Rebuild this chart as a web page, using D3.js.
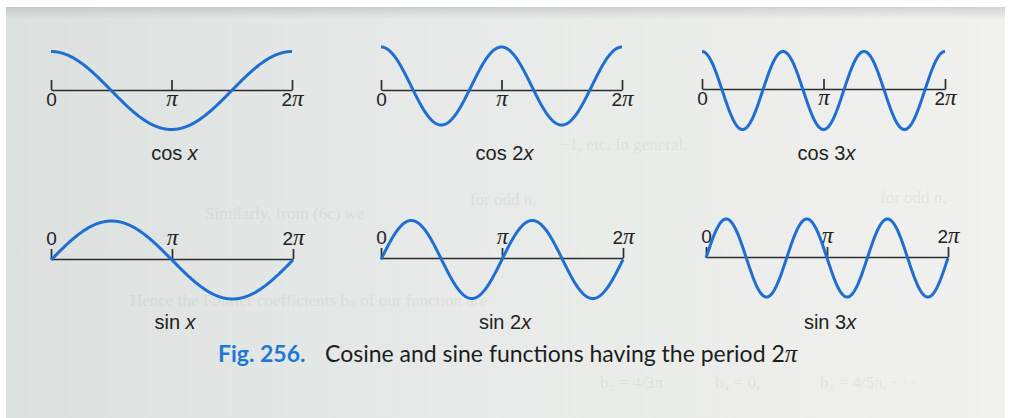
<!DOCTYPE html>
<html>
<head>
<meta charset="utf-8">
<script src="https://cdn.jsdelivr.net/npm/d3@7"></script>
<style>
  html, body { margin: 0; padding: 0; background: #ffffff; }
  svg { display: block; }
</style>
</head>
<body>
<svg id="fig" width="1014" height="418"></svg>
<script>
// Functions shown in the six panels (name + frequency n in cos nx / sin nx)
const funcNames = ["cos", "cos", "cos", "sin", "sin", "sin"];
const freqs = [1, 2, 3, 1, 2, 3];
// Axis ticks at 0, pi, 2pi
const tickValues = [0, Math.PI, 2 * Math.PI];
const tickLabels = ["0", "π", "2π"];
const captionNumber = "Fig. 256.";
const captionText = "Cosine and sine functions having the period 2";

// Panel placement on the page
const panels = [
  { x0: 51,  x1: 292, axisY: 90,  mid: 90.5, row: 0 },
  { x0: 381, x1: 622, axisY: 90,  mid: 86,   row: 0 },
  { x0: 702, x1: 945, axisY: 89,  mid: 90.5, row: 0 },
  { x0: 51,  x1: 293, axisY: 259, mid: 260,  row: 1 },
  { x0: 381, x1: 623, axisY: 258, mid: 259.5,row: 1 },
  { x0: 706, x1: 948, axisY: 257, mid: 258,  row: 1 }
];
const amp = 39;
const blue = "#1f6fd2";
const ink = "#2b2e2e";
const sans = "'Liberation Sans', Arial, sans-serif";
const serif = "'Liberation Serif', 'DejaVu Serif', serif";

const svg = d3.select("#fig");

// Paper background
const defs = svg.append("defs");
const grad = defs.append("linearGradient").attr("id", "paper")
  .attr("x1", "0").attr("x2", "1").attr("y1", "0").attr("y2", "0");
grad.append("stop").attr("offset", "0").attr("stop-color", "#dce1e0");
grad.append("stop").attr("offset", "0.45").attr("stop-color", "#e7eae8");
grad.append("stop").attr("offset", "1").attr("stop-color", "#f1f1ee");
const vgrad = defs.append("linearGradient").attr("id", "topshade")
  .attr("x1", "0").attr("x2", "0").attr("y1", "0").attr("y2", "1");
vgrad.append("stop").attr("offset", "0").attr("stop-color", "#9aa0a0").attr("stop-opacity", 0.35);
vgrad.append("stop").attr("offset", "1").attr("stop-color", "#9aa0a0").attr("stop-opacity", 0);

svg.append("rect").attr("x", 0).attr("y", 0).attr("width", 1014).attr("height", 418).attr("fill", "#ffffff");
svg.append("rect").attr("x", 6).attr("y", 7).attr("width", 999).attr("height", 411).attr("fill", "url(#paper)");
svg.append("rect").attr("x", 6).attr("y", 7).attr("width", 999).attr("height", 12).attr("fill", "url(#topshade)");

// Faint show-through from the facing page
const ghost = svg.append("g").attr("fill", "#6d7575").attr("opacity", 0.09)
  .attr("font-family", serif).attr("font-size", 17);
[
  ["−1, etc. In general,", 560, 150],
  ["Similarly, from (6c) we", 205, 219],
  ["for odd n,", 470, 205],
  ["for odd n,", 880, 203],
  ["Hence the Fourier coefficients bₙ of our function are", 130, 306],
  ["b₃ =  4/3π", 600, 388], ["b₄ = 0,", 715, 388], ["b₅ = 4/5π, · · ·", 820, 388]
].forEach(([s, x, y]) => ghost.append("text").attr("x", x).attr("y", y).text(s));

// Writes a label like "2π": digits upright sans, pi as italic serif
function mathLabel(sel, label) {
  sel.text(null);
  for (const ch of label) {
    if (ch === "π") {
      sel.append("tspan").attr("font-family", serif).attr("font-style", "italic")
        .attr("font-size", 23).text("π");
    } else {
      sel.append("tspan").attr("font-family", sans).attr("font-size", 19).text(ch);
    }
  }
}

panels.forEach((p, i) => {
  const x = d3.scaleLinear().domain([0, 2 * Math.PI]).range([p.x0, p.x1]);
  const y = d3.scaleLinear().domain([-1, 1]).range([p.mid + amp, p.mid - amp]);
  const g = svg.append("g");

  // Axis: ticks point upward; labels below on the top row, above on the bottom row
  const axis = (p.row === 0 ? d3.axisBottom(x) : d3.axisTop(x))
    .tickValues(tickValues)
    .tickFormat((d, k) => tickLabels[k])
    .tickSizeOuter(0);
  if (p.row === 0) axis.tickSizeInner(-10).tickPadding(9);
  else axis.tickSizeInner(10).tickPadding(4);

  const ax = g.append("g").attr("transform", `translate(0,${p.axisY})`).call(axis);
  ax.select(".domain").attr("stroke", ink).attr("stroke-width", 1.7);
  ax.selectAll(".tick line").attr("stroke", ink).attr("stroke-width", 1.7);
  ax.selectAll(".tick text").attr("fill", "#222").each(function (d, k) {
    mathLabel(d3.select(this), tickLabels[k]);
  });

  // Curve
  const fn = funcNames[i] === "cos" ? Math.cos : Math.sin;
  const n = freqs[i];
  const samples = d3.range(0, 361).map(j => {
    const t = (j / 360) * 2 * Math.PI;
    return { t, v: fn(n * t) };
  });
  g.append("path")
    .datum(samples)
    .attr("fill", "none")
    .attr("stroke", blue)
    .attr("stroke-width", 3)
    .attr("stroke-linecap", "butt")
    .attr("d", d3.line().x(d => x(d.t)).y(d => y(d.v)));

  // Function name under the panel
  const lbl = g.append("text")
    .attr("x", (p.x0 + p.x1) / 2 + 3)
    .attr("y", p.row === 0 ? 160 : 329)
    .attr("text-anchor", "middle")
    .attr("fill", "#222")
    .attr("font-family", sans)
    .attr("font-size", 20);
  lbl.append("tspan").text(funcNames[i] + " " + (n > 1 ? n : ""));
  lbl.append("tspan").attr("font-style", "italic").text("x");
});

// Caption
const cap = svg.append("text")
  .attr("x", 218).attr("y", 362)
  .attr("font-family", "Lato, 'Open Sans', sans-serif")
  .attr("font-size", 23);
cap.append("tspan").attr("fill", "#1f78d4").attr("font-weight", "bold").text(captionNumber);
cap.append("tspan").attr("x", 325).attr("fill", "#1d1d1d").text(captionText);
cap.append("tspan").attr("fill", "#1d1d1d").attr("font-family", serif)
  .attr("font-style", "italic").attr("font-size", 25).text("π");
</script>
</body>
</html>
